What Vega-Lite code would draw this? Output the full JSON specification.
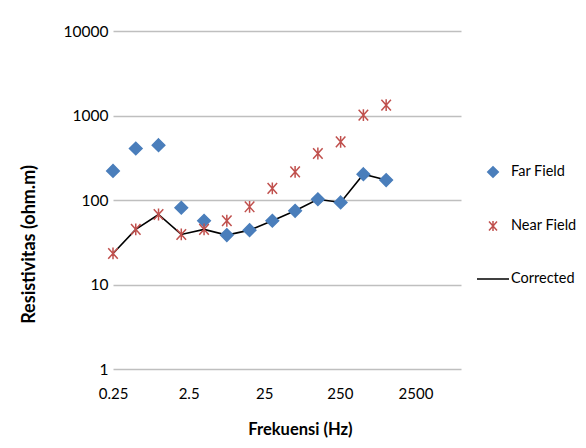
{
  "$schema": "https://vega.github.io/schema/vega-lite/v6.json",
  "width": 348,
  "height": 338,
  "autosize": "none",
  "padding": {"left": 113, "top": 31, "right": 125, "bottom": 79},
  "background": "white",
  "config": {
    "view": {"stroke": null},
    "font": "Lato",
    "axis": {"labelFont": "Lato", "titleFont": "Lato", "labelColor": "#000", "titleColor": "#000"},
    "legend": {"labelFont": "Lato", "labelColor": "#000", "title": null, "orient": "none", "legendX": 363, "legendY": 124,
      "symbolSize": 1024, "labelFontSize": 14.5, "labelOffset": 1, "rowPadding": 28, "symbolStrokeWidth": 1.5, "padding": 0}
  },
  "data": {
    "values": [
      {"freq": 0.25, "value": 221, "series": "Far Field"},
      {"freq": 0.5, "value": 407, "series": "Far Field"},
      {"freq": 1, "value": 445, "series": "Far Field"},
      {"freq": 2, "value": 81, "series": "Far Field"},
      {"freq": 4, "value": 56.8, "series": "Far Field"},
      {"freq": 8, "value": 38.4, "series": "Far Field"},
      {"freq": 16, "value": 44, "series": "Far Field"},
      {"freq": 32, "value": 56.8, "series": "Far Field"},
      {"freq": 64, "value": 74.5, "series": "Far Field"},
      {"freq": 128, "value": 102, "series": "Far Field"},
      {"freq": 256, "value": 93.5, "series": "Far Field"},
      {"freq": 512, "value": 202, "series": "Far Field"},
      {"freq": 1024, "value": 172, "series": "Far Field"},
      {"freq": 0.25, "value": 23.3, "series": "Near Field"},
      {"freq": 0.5, "value": 44.9, "series": "Near Field"},
      {"freq": 1, "value": 67.4, "series": "Near Field"},
      {"freq": 2, "value": 39.1, "series": "Near Field"},
      {"freq": 4, "value": 44.9, "series": "Near Field"},
      {"freq": 8, "value": 56.8, "series": "Near Field"},
      {"freq": 16, "value": 83.1, "series": "Near Field"},
      {"freq": 32, "value": 137, "series": "Near Field"},
      {"freq": 64, "value": 215, "series": "Near Field"},
      {"freq": 128, "value": 355, "series": "Near Field"},
      {"freq": 256, "value": 488, "series": "Near Field"},
      {"freq": 512, "value": 1009, "series": "Near Field"},
      {"freq": 1024, "value": 1324, "series": "Near Field"},
      {"freq": 0.25, "value": 23.3, "series": "Corrected"},
      {"freq": 0.5, "value": 44.9, "series": "Corrected"},
      {"freq": 1, "value": 67.4, "series": "Corrected"},
      {"freq": 2, "value": 39.1, "series": "Corrected"},
      {"freq": 4, "value": 44.9, "series": "Corrected"},
      {"freq": 8, "value": 38.4, "series": "Corrected"},
      {"freq": 16, "value": 44, "series": "Corrected"},
      {"freq": 32, "value": 56.8, "series": "Corrected"},
      {"freq": 64, "value": 74.5, "series": "Corrected"},
      {"freq": 128, "value": 102, "series": "Corrected"},
      {"freq": 256, "value": 93.5, "series": "Corrected"},
      {"freq": 512, "value": 202, "series": "Corrected"},
      {"freq": 1024, "value": 172, "series": "Corrected"}
    ]
  },
  "encoding": {
    "x": {
      "field": "freq", "type": "quantitative",
      "scale": {"type": "log", "domain": [0.25, 10000], "nice": false},
      "axis": {
        "title": "Frekuensi (Hz)", "values": [0.25, 2.5, 25, 250, 2500], "format": "~g",
        "grid": false, "domain": false, "ticks": false,
        "labelFontSize": 15, "labelPadding": 17, "labelFlush": false,
        "titleFontSize": 16.5, "titleFontWeight": "bold", "titleX": 187, "titleY": 60, "titleBaseline": "middle"
      }
    },
    "y": {
      "field": "value", "type": "quantitative",
      "scale": {"type": "log", "domain": [1, 10000], "nice": false},
      "axis": {
        "title": "Resistivitas (ohm.m)", "values": [1, 10, 100, 1000, 10000], "format": "d",
        "grid": true, "gridColor": "#bfbfbf", "gridWidth": 1.5, "domain": false, "ticks": false,
        "labelFontSize": 15.5, "labelPadding": 5,
        "titleFontSize": 18, "titleFontWeight": "bold", "titleX": -84, "titleY": 213, "titleBaseline": "middle"
      }
    }
  },
  "layer": [
    {
      "transform": [{"filter": "datum.series === 'Corrected'"}],
      "mark": {"type": "line", "strokeWidth": 1.6},
      "encoding": {
        "stroke": {"field": "series", "type": "nominal",
          "scale": {"domain": ["Far Field", "Near Field", "Corrected"], "range": ["#4a7ebb", "#c0504d", "#000000"]}}
      }
    },
    {
      "transform": [{"filter": "datum.series !== 'Corrected'"}],
      "mark": {"type": "point", "filled": true, "size": 1450, "strokeWidth": 1.5, "opacity": 1},
      "encoding": {
        "fill": {"field": "series", "type": "nominal",
          "scale": {"domain": ["Far Field", "Near Field", "Corrected"], "range": ["#4a7ebb", "#c0504d", "#000000"]}},
        "stroke": {"field": "series", "type": "nominal",
          "scale": {"domain": ["Far Field", "Near Field", "Corrected"], "range": ["#4a7ebb", "#c0504d", "#000000"]}},
        "shape": {"field": "series", "type": "nominal",
          "scale": {"domain": ["Far Field", "Near Field", "Corrected"],
            "range": ["M0,-0.33L0.33,0L0,0.33L-0.33,0Z", "M-0.25,-0.28L0.25,0.28M-0.25,0.28L0.25,-0.28M0,-0.31L0,0.31", "M-1,0L1,0"]}}
      }
    }
  ]
}
